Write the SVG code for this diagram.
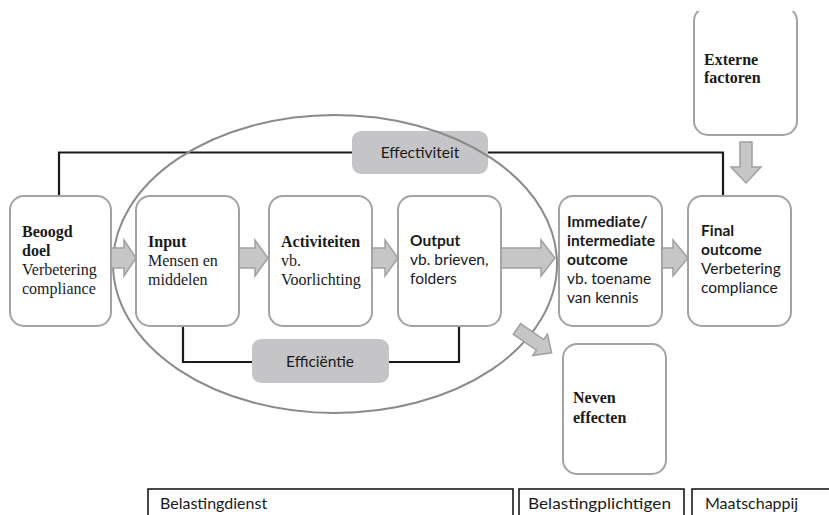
<svg xmlns="http://www.w3.org/2000/svg" width="829" height="515" viewBox="0 0 829 515">
<defs>
<style>
.box{fill:#fff;stroke:#a3a3a3;stroke-width:2}
.arr{fill:#c6c6c6;stroke:#a0a0a0;stroke-width:1.5;stroke-linejoin:miter}
.ln{fill:none;stroke:#1a1a1a;stroke-width:2.2}
.lbl{fill:#c5c5c7;stroke:none}
.ser{font-family:"Liberation Serif","Times New Roman",serif;font-size:16px;fill:#1a1a1a}
.san{font-family:Lato,"Open Sans",sans-serif;font-size:15.5px;fill:#1a1a1a}
.b{font-weight:bold}
.bot{fill:#fff;stroke:#1a1a1a;stroke-width:1.6}
.bt{font-family:Lato,"Open Sans",sans-serif;font-size:16px;fill:#1a1a1a}
</style>
<clipPath id="clipTop"><rect x="0" y="11" width="829" height="504"/></clipPath>
</defs>
<rect width="829" height="515" fill="#fff"/>

<g id="connectors">
<path class="ln" d="M59,196 V152.5 H723 V196"/>
<path class="ln" d="M183,326 V362 H459 V326"/>
</g>

<g id="effectiviteit">
<rect class="lbl" x="352" y="131" width="136" height="43" rx="9"/>
<text class="san" x="420" y="158" text-anchor="middle">Effectiviteit</text>
</g>
<g id="efficientie">
<rect class="lbl" x="252" y="339" width="137" height="44" rx="9"/>
<text class="san" x="320" y="367" text-anchor="middle">Efficiëntie</text>
</g>

<ellipse id="ellipse" cx="335" cy="264" rx="222" ry="149" fill="none" stroke="#8a8a8a" stroke-width="2"/>

<g id="beoogd-doel">
<rect class="box" x="10" y="196" width="101" height="130" rx="14"/>
<text class="ser"><tspan class="b" x="22" y="237">Beoogd</tspan><tspan class="b" x="22" y="256">doel</tspan><tspan x="22" y="275">Verbetering</tspan><tspan x="22" y="294">compliance</tspan></text>
</g>
<g id="input">
<rect class="box" x="136" y="196" width="103" height="130" rx="14"/>
<text class="ser"><tspan class="b" x="148" y="247">Input</tspan><tspan x="148" y="266">Mensen en</tspan><tspan x="148" y="285">middelen</tspan></text>
</g>
<g id="activiteiten">
<rect class="box" x="269" y="196" width="103" height="130" rx="14"/>
<text class="ser"><tspan class="b" x="281" y="247">Activiteiten</tspan><tspan x="281" y="266">vb.</tspan><tspan x="281" y="285">Voorlichting</tspan></text>
</g>
<g id="output">
<rect class="box" x="398" y="196" width="103" height="130" rx="14"/>
<text class="san"><tspan class="b" x="410" y="246">Output</tspan><tspan x="410" y="265">vb. brieven,</tspan><tspan x="410" y="284">folders</tspan></text>
</g>
<g id="immediate-outcome">
<rect class="box" x="559" y="196" width="103" height="130" rx="14"/>
<text class="san"><tspan class="b" x="567" y="227">Immediate/</tspan><tspan class="b" x="567" y="246">intermediate</tspan><tspan class="b" x="567" y="265">outcome</tspan><tspan x="567" y="284">vb. toename</tspan><tspan x="567" y="303">van kennis</tspan></text>
</g>
<g id="final-outcome">
<rect class="box" x="688" y="196" width="103" height="130" rx="14"/>
<text class="san"><tspan class="b" x="701" y="236">Final</tspan><tspan class="b" x="701" y="255">outcome</tspan><tspan x="701" y="274">Verbetering</tspan><tspan x="701" y="293">compliance</tspan></text>
</g>
<g id="externe-factoren">
<rect class="box" x="694" y="7" width="103" height="128" rx="14" clip-path="url(#clipTop)"/>
<text class="ser b"><tspan x="704" y="65">Externe</tspan><tspan x="704" y="83">factoren</tspan></text>
</g>
<g id="neven-effecten">
<rect class="box" x="563" y="344" width="103" height="130" rx="14"/>
<text class="ser b"><tspan x="573" y="403">Neven</tspan><tspan x="573" y="423">effecten</tspan></text>
</g>

<g id="arrows">
<path class="arr" d="M111,248 H124 V240 L136,258 L124,276 V268 H111 Z"/>
<path class="arr" d="M239,248 H255 V240 L268,258 L255,276 V268 H239 Z"/>
<path class="arr" d="M372,248 H385 V240 L398,258 L385,276 V268 H372 Z"/>
<path class="arr" d="M501,248 H541 V240 L555,258 L541,276 V268 H501 Z"/>
<path class="arr" d="M662,248 H673 V240 L688,258 L673,276 V268 H662 Z"/>
<path class="arr" d="M740,142 H752 V167 H761 L746,183 L731,167 H740 Z"/>
<path class="arr" transform="translate(517,329) rotate(34.5)" d="M0,-6.5 H28 V-13 L42,0 L28,13 V6.5 H0 Z"/>
</g>

<g id="belastingdienst">
<rect class="bot" x="148" y="489" width="365" height="40"/>
<text class="bt" x="160" y="509">Belastingdienst</text>
</g>
<g id="belastingplichtigen">
<rect class="bot" x="519" y="489" width="165" height="40"/>
<text class="bt" x="528" y="509" textLength="143" lengthAdjust="spacingAndGlyphs">Belastingplichtigen</text>
</g>
<g id="maatschappij">
<rect class="bot" x="692" y="489" width="160" height="40"/>
<text class="bt" x="705" y="509">Maatschappij</text>
</g>
</svg>
